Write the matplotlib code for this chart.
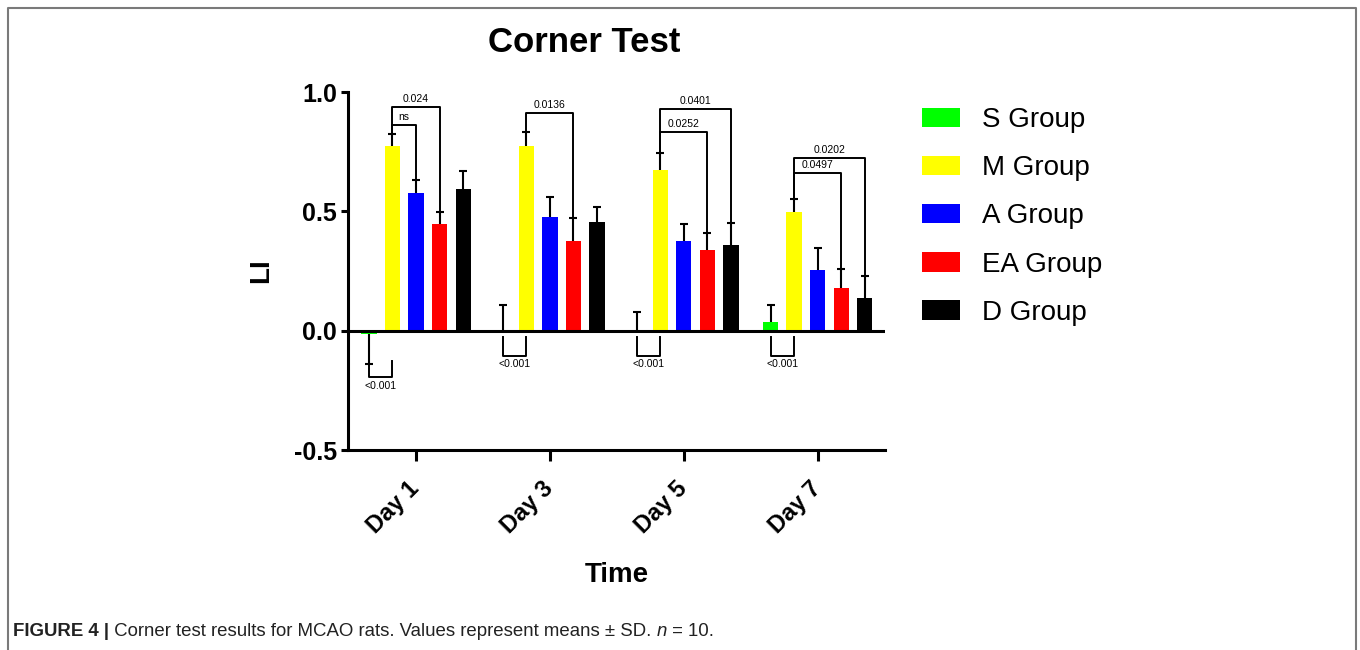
import matplotlib
matplotlib.use('Agg')
import matplotlib.pyplot as plt
from matplotlib.lines import Line2D
import numpy as np

plt.rcParams['font.family'] = ['Liberation Sans', 'DejaVu Sans']

# ---- data ----
days = ['Day 1', 'Day 3', 'Day 5', 'Day 7']
groups = ['S Group', 'M Group', 'A Group', 'EA Group', 'D Group']
colors = ['#00ff00', '#ffff00', '#0000ff', '#ff0000', '#000000']

s_mean = [-0.012, 0.0, 0.0, 0.038]
m_mean = [0.775, 0.775, 0.674, 0.497]
a_mean = [0.576, 0.477, 0.377, 0.256]
ea_mean = [0.446, 0.377, 0.338, 0.177]
d_mean = [0.595, 0.456, 0.357, 0.137]

s_sd = [0.128, 0.109, 0.078, 0.071]
m_sd = [0.050, 0.056, 0.071, 0.054]
a_sd = [0.056, 0.085, 0.069, 0.090]
ea_sd = [0.051, 0.097, 0.072, 0.082]
d_sd = [0.076, 0.063, 0.093, 0.094]

# significance brackets above the bars (day, group from, group to, height, text)
top_day = [0, 0, 1, 2, 2, 3, 3]
top_from = [1, 1, 1, 1, 1, 1, 1]
top_to = [3, 2, 3, 4, 3, 4, 3]
top_y = [0.939, 0.862, 0.911, 0.928, 0.834, 0.723, 0.660]
top_text = ['0.024', 'ns', '0.0136', '0.0401', '0.0252', '0.0202', '0.0497']

# S vs M brackets under the zero line
low_top = [-0.126, -0.028, -0.028, -0.028]
low_bottom = [-0.196, -0.105, -0.105, -0.105]
low_text = ['<0.001', '<0.001', '<0.001', '<0.001']

means = [s_mean, m_mean, a_mean, ea_mean, d_mean]
sds = [s_sd, m_sd, a_sd, ea_sd, d_sd]

# ---- figure ----
fig = plt.figure(figsize=(13.6, 6.5), dpi=100)
ax = fig.add_axes([348 / 1360, 1 - 450 / 650, (885 - 348) / 1360, (450 - 92) / 650])

step = 0.176
width = 0.114
x = np.arange(len(days))
lw = 2.2

bar_x = []
for i, (g, c) in enumerate(zip(groups, colors)):
    xs = x + (i - 2) * step
    bar_x.append(xs)
    ax.bar(xs, means[i], width=width, color=c, label=g, zorder=2)
    m = np.array(means[i])
    sd = np.array(sds[i])
    tips = np.where(m < 0, m - sd, m + sd)
    ax.vlines(xs, m, tips, color='black', lw=1.5, zorder=3)
    ax.plot(xs, tips, ls='none', marker='_', ms=6, mew=1.5, color='black', zorder=3)

ax.axhline(0, color='black', lw=lw, zorder=4)

tip_of = lambda g, d: means[g][d] + sds[g][d]

for d, g1, g2, y, t in zip(top_day, top_from, top_to, top_y, top_text):
    x1 = bar_x[g1][d]
    x2 = bar_x[g2][d]
    ax.plot([x1, x1, x2, x2], [tip_of(g1, d), y, y, tip_of(g2, d)],
            color='black', lw=1.4, zorder=3)
    ax.text((x1 + x2) / 2, y + 0.012, t, ha='center', va='bottom', fontsize=7.5)

for d in range(len(days)):
    x1 = bar_x[0][d]
    x2 = bar_x[1][d]
    ax.plot([x1, x1, x2, x2], [low_top[d], low_bottom[d], low_bottom[d], low_top[d]],
            color='black', lw=1.4, zorder=3)
    ax.text((x1 + x2) / 2, low_bottom[d] - 0.015, low_text[d], ha='center', va='top',
            fontsize=7.5)

ax.set_xlim(-0.508, 3.503)
ax.set_ylim(-0.5, 1.0)
ax.set_yticks([-0.5, 0.0, 0.5, 1.0])
ax.set_yticklabels(['-0.5', '0.0', '0.5', '1.0'], fontsize=18, fontweight='bold')
ax.set_xticks(x)
ax.set_xticklabels(days, fontsize=17, fontweight='bold', rotation=45,
                   ha='right', va='center', rotation_mode='anchor')
for s in ['top', 'right']:
    ax.spines[s].set_visible(False)
for s in ['left', 'bottom']:
    ax.spines[s].set_linewidth(lw)
ax.tick_params(axis='y', length=5, width=lw, pad=3)
ax.tick_params(axis='x', length=8, width=lw, pad=17.5)

ax.set_ylabel('LI', fontsize=20, fontweight='bold', labelpad=14)
ax.set_xlabel('Time', fontsize=20, fontweight='bold', labelpad=17)

fig.text(584 / 1360, 1 - 42 / 650, 'Corner Test', ha='center', va='center',
         fontsize=25, fontweight='bold')

fig.legend(loc='upper left', bbox_to_anchor=(922 / 1360, 1 - 107 / 650),
           frameon=False, fontsize=20, handlelength=1.37, handleheight=0.7,
           handletextpad=0.8, labelspacing=0.80, borderpad=0, borderaxespad=0)

# outer frame of the published figure
frame = '#7a7a7a'
fx0, fx1, fy = 7.5 / 1360, 1355.5 / 1360, 1 - 7.5 / 650
fig.add_artist(Line2D([fx0, fx0, fx1, fx1], [0, fy, fy, 0], color=frame, lw=1.5,
                      transform=fig.transFigure))

# caption
renderer = fig.canvas.get_renderer()
cap_y = 1 - 632 / 650
cx = 13 / 1360
pieces = [('FIGURE 4 |', dict(fontweight='bold')),
          (' Corner test results for MCAO rats. Values represent means \u00b1 SD. ', {}),
          ('n', dict(style='italic')),
          (' = 10.', {})]
for txt, kw in pieces:
    t = fig.text(cx, cap_y, txt, ha='left', va='center', fontsize=13.4,
                 color='#222222', **kw)
    cx = t.get_window_extent(renderer).x1 / 1360

fig.savefig('out.png', dpi=100)
